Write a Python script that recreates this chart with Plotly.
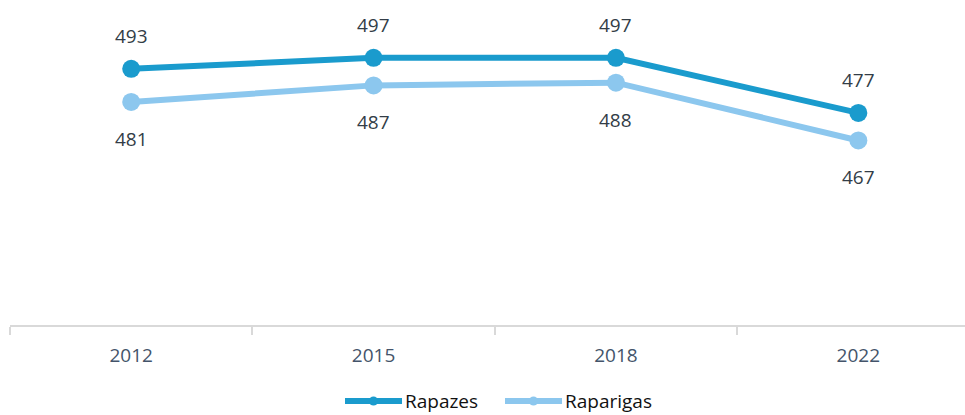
import plotly.graph_objects as go

years = ["2012", "2015", "2018", "2022"]
rapazes = [493, 497, 497, 477]
raparigas = [481, 487, 488, 467]
series_names = ["Rapazes", "Raparigas"]

c_rap = "#1a9bcd"
c_rag = "#8cc7ee"

W, H = 965, 415
ML, MT, MB = 10, 0, 90
PW, PH = W - ML, H - MT - MB


def px(xp):
    return (xp - ML) / PW


def py(yp):
    return (H - MB - yp) / PH


fig = go.Figure()
fig.add_trace(go.Scatter(x=years, y=rapazes, name=series_names[0], mode="lines+markers",
                         line=dict(color=c_rap, width=6), marker=dict(size=18, color=c_rap),
                         showlegend=False))
fig.add_trace(go.Scatter(x=years, y=raparigas, name=series_names[1], mode="lines+markers",
                         line=dict(color=c_rag, width=6), marker=dict(size=18, color=c_rag),
                         showlegend=False))

annos = []
for i, y in enumerate(rapazes):
    annos.append(dict(x=i, y=y, xref="x", yref="y", text=str(y), showarrow=False, yshift=33,
                      font=dict(size=19, color="#333d47")))
for i, y in enumerate(raparigas):
    annos.append(dict(x=i, y=y, xref="x", yref="y", text=str(y), showarrow=False, yshift=-37,
                      font=dict(size=19, color="#333d47")))

# manual legend
shapes = []
leg_y = 401
for (x0, x1, col, name) in [(345, 402, c_rap, series_names[0]), (505, 562, c_rag, series_names[1])]:
    shapes.append(dict(type="line", xref="paper", yref="paper",
                       x0=px(x0), x1=px(x1), y0=py(leg_y), y1=py(leg_y),
                       line=dict(color=col, width=6)))
    cx = (x0 + x1) / 2
    shapes.append(dict(type="circle", xref="paper", yref="paper",
                       x0=px(cx - 4.5), x1=px(cx + 4.5), y0=py(leg_y + 4.5), y1=py(leg_y - 4.5),
                       fillcolor=col, line=dict(color=col, width=0)))
    annos.append(dict(x=px(x1 + 2), y=py(leg_y), xref="paper", yref="paper", text=name,
                      showarrow=False, xanchor="left", yanchor="middle", borderpad=0,
                      font=dict(size=19, color="#111111")))

fig.update_layout(
    width=W, height=H,
    margin=dict(l=ML, r=0, t=MT, b=MB),
    plot_bgcolor="white", paper_bgcolor="white",
    font=dict(family="Open Sans, Noto Sans, sans-serif"),
    showlegend=False,
    annotations=annos,
    shapes=shapes,
)
fig.update_xaxes(type="category", range=[-0.5, 3.44], tickson="boundaries",
                 showline=True, linecolor="#d9d9d9", linewidth=2,
                 ticks="outside", ticklen=8, tickcolor="#d9d9d9", tickwidth=2,
                 showgrid=False, tickfont=dict(size=19, color="#44546a"),
                 ticklabelstandoff=12)
fig.update_yaxes(range=[400, 518], showticklabels=False, showline=False,
                 zeroline=False, showgrid=False, ticks="")

fig.write_html("out.html", config={"displayModeBar": False},
               post_script="document.body.style.margin='0';")
